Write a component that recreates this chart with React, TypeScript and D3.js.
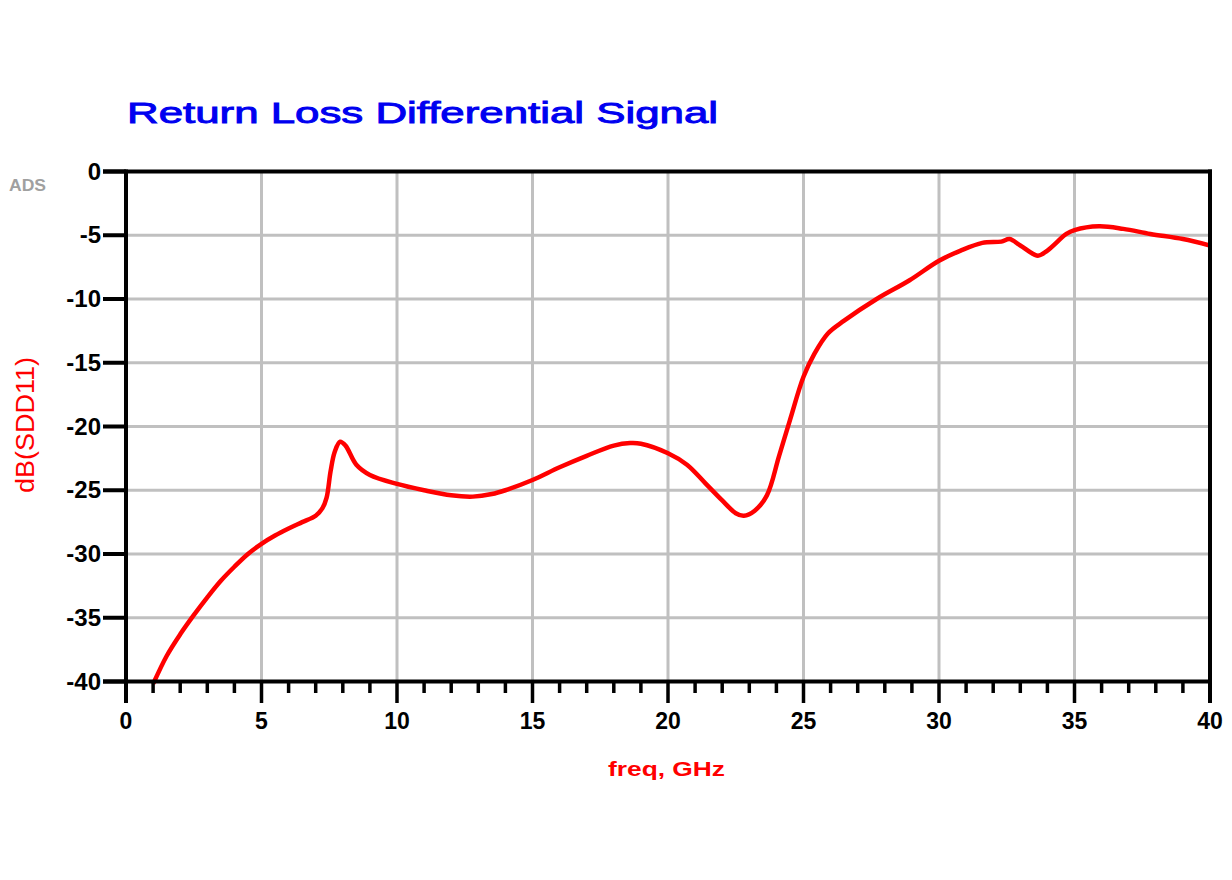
import React from "react";
import * as d3 from "d3";

const freqGHz = [1.0, 1.5, 2.0, 2.5, 3.0, 3.5, 4.0, 4.5, 5.0, 5.5, 6.0, 6.5, 7.0, 7.25, 7.4, 7.55, 7.7, 7.9, 8.1, 8.5, 9.0, 10.0, 11.0, 12.0, 12.8, 13.5, 14.0, 15.0, 16.0, 17.0, 18.0, 18.6, 19.0, 20.0, 20.7, 21.4, 22.0, 22.5, 22.8, 23.2, 23.65, 24.1, 24.5, 25.0, 25.4, 25.9, 26.5, 27.7, 28.9, 30.0, 30.8, 31.6, 32.3, 32.6, 33.0, 33.65, 34.0, 34.7, 35.0, 35.9, 36.8, 37.8, 39.0, 40.0];
const sdd11dB = [-40.2, -38.0, -36.3, -34.8, -33.4, -32.1, -31.0, -30.0, -29.2, -28.55, -28.0, -27.5, -27.0, -26.4, -25.6, -23.5, -22.0, -21.2, -21.5, -23.0, -23.8, -24.5, -25.0, -25.4, -25.5, -25.3, -25.0, -24.2, -23.2, -22.3, -21.5, -21.3, -21.35, -22.1, -23.0, -24.5, -25.8, -26.8, -27.0, -26.6, -25.4, -22.3, -19.5, -16.1, -14.3, -12.7, -11.7, -10.0, -8.55, -7.0, -6.2, -5.6, -5.5, -5.3, -5.8, -6.6, -6.2, -4.9, -4.6, -4.3, -4.5, -4.9, -5.3, -5.8];

const xMajorTicks = [0, 5, 10, 15, 20, 25, 30, 35, 40];
const xMinorTicks = d3.range(0, 41, 1).filter((v) => v % 5 !== 0);
const yMajorTicks = [0, -5, -10, -15, -20, -25, -30, -35, -40];

const titleText = "Return Loss Differential Signal";
const xLabel = "freq, GHz";
const yLabel = "dB(SDD11)";

export default function App() {
  const x = d3.scaleLinear().domain([0, 40]).range([126, 1210]);
  const y = d3.scaleLinear().domain([-40, 0]).range([681.5, 171.5]);
  const pts: [number, number][] = freqGHz.map((f, i) => [f, sdd11dB[i]]);
  const line = d3
    .line<[number, number]>()
    .x((d) => x(d[0]))
    .y((d) => y(d[1]))
    .curve(d3.curveCatmullRom.alpha(0.5));

  const x0 = x(0), x1 = x(40), yTop = y(0), yBot = y(-40);
  const font = "'Liberation Sans', Arial, sans-serif";

  return (
    <svg
      width={1232}
      height={880}
      style={{ position: "absolute", left: 0, top: 0, background: "#fff" }}
    >
      <defs>
        <clipPath id="plotClip">
          <rect x={x0} y={yTop} width={x1 - x0} height={yBot - yTop + 3} />
        </clipPath>
      </defs>
      <rect x={0} y={0} width={1232} height={880} fill="#fff" />

      <text x={127} y={123} fontFamily={font} fontSize={29} fill="#0000f0" stroke="#0000f0" strokeWidth={0.9} textLength={591} lengthAdjust="spacingAndGlyphs">
        {titleText}
      </text>

      <text x={9} y={191} fontFamily={font} fontSize={16} fontWeight="bold" fill="#a0a0a0" textLength={37} lengthAdjust="spacingAndGlyphs">
        ADS
      </text>

      {/* grid */}
      {xMajorTicks.filter((v) => v > 0 && v < 40).map((v) => (
        <line key={"gx" + v} x1={x(v)} x2={x(v)} y1={yTop} y2={yBot} stroke="#c0c0c0" strokeWidth={3} />
      ))}
      {yMajorTicks.filter((v) => v < 0 && v > -40).map((v) => (
        <line key={"gy" + v} x1={x0} x2={x1} y1={y(v)} y2={y(v)} stroke="#c0c0c0" strokeWidth={3} />
      ))}

      {/* curve */}
      <path d={line(pts) || ""} fill="none" stroke="#ff0000" strokeWidth={4.5} strokeLinejoin="round" clipPath="url(#plotClip)" />

      {/* frame */}
      <line x1={103} x2={x1 + 2} y1={yTop} y2={yTop} stroke="#000" strokeWidth={4} />
      <line x1={103} x2={x1 + 2} y1={yBot} y2={yBot} stroke="#000" strokeWidth={4} />
      <line x1={x0} x2={x0} y1={yTop - 2} y2={703} stroke="#000" strokeWidth={4} />
      <line x1={x1} x2={x1} y1={yTop - 2} y2={703} stroke="#000" strokeWidth={4} />

      {/* y ticks */}
      {yMajorTicks.map((v) => (
        <g key={"yt" + v}>
          <line x1={103} x2={x0} y1={y(v)} y2={y(v)} stroke="#000" strokeWidth={4} />
          <text x={101} y={y(v) + 8} textAnchor="end" fontFamily={font} fontSize={24} fontWeight="bold" fill="#000">
            {v}
          </text>
        </g>
      ))}

      {/* x ticks */}
      {xMajorTicks.map((v) => (
        <g key={"xt" + v}>
          <line x1={x(v)} x2={x(v)} y1={yBot} y2={703} stroke="#000" strokeWidth={3.5} />
          <text x={x(v)} y={729} textAnchor="middle" fontFamily={font} fontSize={23} fontWeight="bold" fill="#000">
            {v}
          </text>
        </g>
      ))}
      {xMinorTicks.map((v) => (
        <line key={"xm" + v} x1={x(v)} x2={x(v)} y1={yBot} y2={693} stroke="#000" strokeWidth={3.5} />
      ))}

      <text x={608} y={776} fontFamily={font} fontSize={21} fontWeight="bold" fill="#ff0000" textLength={117} lengthAdjust="spacingAndGlyphs">
        {xLabel}
      </text>

      <text transform="translate(34,425) rotate(-90)" textAnchor="middle" fontFamily={font} fontSize={25} fill="#ff0000" textLength={136} lengthAdjust="spacingAndGlyphs">
        {yLabel}
      </text>
    </svg>
  );
}
